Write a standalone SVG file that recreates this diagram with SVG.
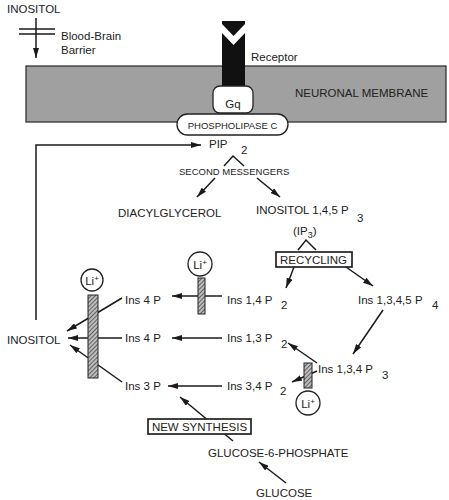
<svg xmlns="http://www.w3.org/2000/svg" width="449" height="500" viewBox="0 0 449 500">
<defs>
<marker id="ah" viewBox="0 0 10 6" refX="10" refY="3" markerWidth="10" markerHeight="6" markerUnits="userSpaceOnUse" orient="auto">
<path d="M0,0 L10,3 L0,6 Z" fill="#1a1a1a"/>
</marker>
<pattern id="hatch" patternUnits="userSpaceOnUse" width="3" height="3" patternTransform="rotate(45)">
<rect width="3" height="3" fill="#bdbdbd"/>
<line x1="0" y1="0" x2="0" y2="3" stroke="#222" stroke-width="1.2"/>
</pattern>
<style>
text{font-family:"Liberation Sans",Arial,sans-serif;fill:#222;font-size:11.5px}
.sm{font-size:9.5px}
.ln{stroke:#1a1a1a;stroke-width:1.5;fill:none}
.ar{stroke:#1a1a1a;stroke-width:1.5;fill:none;marker-end:url(#ah)}
.bar{fill:url(#hatch);stroke:#222;stroke-width:1}
.li{fill:#fff;stroke:#222;stroke-width:1.3}
.box{fill:#fff;stroke:#222;stroke-width:1.7}
</style>
</defs>

<g id="connectors">
<line class="ar" x1="36" y1="18" x2="36" y2="58"/>
<line class="ln" x1="19" y1="29" x2="55" y2="29"/>
<line class="ln" x1="19" y1="34" x2="55" y2="34"/>
<polyline class="ar" points="36,320 36,145 201,145"/>
<polyline class="ln" points="224,166 233,156 244,166"/>
<line class="ar" x1="215" y1="178" x2="197" y2="197"/>
<line class="ar" x1="257" y1="178" x2="280" y2="197"/>
<polyline class="ln" points="298,250 306,240 316,250"/>
<line class="ar" x1="294" y1="267" x2="286" y2="288"/>
<line class="ar" x1="346" y1="267" x2="373" y2="286"/>
<line class="ar" x1="383" y1="310" x2="353" y2="354"/>
<line class="ar" x1="317" y1="363" x2="288" y2="343"/>
<line class="ar" x1="317" y1="371" x2="292" y2="382"/>
<line class="ar" x1="222" y1="296" x2="172" y2="296"/>
<line class="ar" x1="222" y1="338" x2="172" y2="338"/>
<line class="ar" x1="222" y1="386" x2="168" y2="386"/>
<line class="ar" x1="122" y1="298" x2="67" y2="331"/>
<line class="ar" x1="122" y1="338" x2="68" y2="338"/>
<line class="ar" x1="122" y1="382" x2="70" y2="345"/>
<line class="ar" x1="233" y1="441" x2="180" y2="397"/>
<line class="ar" x1="286" y1="483" x2="259" y2="462"/>
</g>

<g id="inositol-top"><text x="7" y="13">INOSITOL</text></g>
<g id="bbb"><text x="61" y="40">Blood-Brain</text><text x="61" y="54">Barrier</text></g>

<g id="membrane">
<rect x="26" y="66" width="420" height="56" fill="#a0a0a0" stroke="#333" stroke-width="1.3"/>
<text x="295" y="97">NEURONAL MEMBRANE</text>
</g>

<g id="receptor">
<polygon points="222,21 245,21 245,24 233.5,36 222,24" fill="#111"/>
<polygon points="222,33 233.5,45 245,33 245,88 222,88" fill="#111"/>
<text x="251" y="61">Receptor</text>
</g>

<g id="gq">
<rect x="213" y="86" width="40" height="27" rx="7" fill="#fff" stroke="#222" stroke-width="1.3"/>
<text x="233" y="108" text-anchor="middle">Gq</text>
</g>

<g id="plc">
<rect x="177" y="114" width="111" height="21" rx="10.5" fill="#fff" stroke="#222" stroke-width="1.3"/>
<text class="sm" x="232.5" y="128.5" text-anchor="middle">PHOSPHOLIPASE C</text>
</g>

<g id="pip2"><text x="209" y="148" font-size="12">PIP</text><text x="241" y="154">2</text></g>
<g id="second"><text class="sm" x="179" y="175">SECOND MESSENGERS</text></g>
<g id="dag"><text x="118" y="217">DIACYLGLYCEROL</text></g>
<g id="ip3"><text x="256" y="214">INOSITOL 1,4,5 P</text><text x="357" y="222">3</text>
<text x="293" y="235">(IP<tspan font-size="9" dy="3">3</tspan><tspan dy="-3">)</tspan></text></g>

<g id="recycling">
<rect class="box" x="276" y="252" width="76" height="15"/>
<text x="313.5" y="264" text-anchor="middle">RECYCLING</text>
</g>

<g id="ins145"><text x="358" y="304">Ins 1,3,4,5 P</text><text x="432" y="309">4</text></g>
<g id="ins14"><text x="227" y="304">Ins 1,4 P</text><text x="281" y="309">2</text></g>
<g id="ins13"><text x="227" y="342">Ins 1,3 P</text><text x="281" y="348">2</text></g>
<g id="ins134"><text x="318" y="373">Ins 1,3,4 P</text><text x="382" y="379">3</text></g>
<g id="ins34"><text x="227" y="390">Ins 3,4 P</text><text x="280" y="395">2</text></g>

<g id="ins4a"><text x="125" y="304">Ins 4 P</text></g>
<g id="ins4b"><text x="125" y="342">Ins 4 P</text></g>
<g id="ins3"><text x="125" y="390">Ins 3 P</text></g>
<g id="inositol"><text x="7" y="344">INOSITOL</text></g>

<g id="li-big">
<rect class="bar" x="88" y="295" width="10" height="83"/>
<circle class="li" cx="92" cy="280" r="11"/>
<text x="92" y="284.5" text-anchor="middle" font-size="11">Li<tspan font-size="8" dy="-4">+</tspan></text>
</g>
<g id="li-mid">
<rect class="bar" x="198" y="278" width="7" height="36"/>
<circle class="li" cx="200" cy="264" r="12"/>
<text x="200" y="268.5" text-anchor="middle" font-size="11">Li<tspan font-size="8" dy="-4">+</tspan></text>
</g>
<g id="li-low">
<rect class="bar" x="304" y="363" width="8" height="25"/>
<circle class="li" cx="308" cy="403" r="12"/>
<text x="308" y="407.5" text-anchor="middle" font-size="11">Li<tspan font-size="8" dy="-4">+</tspan></text>
</g>

<g id="newsyn">
<rect class="box" x="148" y="419" width="103" height="15"/>
<text x="199.5" y="431" text-anchor="middle">NEW SYNTHESIS</text>
</g>
<g id="g6p"><text x="208" y="457">GLUCOSE-6-PHOSPHATE</text></g>
<g id="glucose"><text x="256" y="497">GLUCOSE</text></g>
</svg>
